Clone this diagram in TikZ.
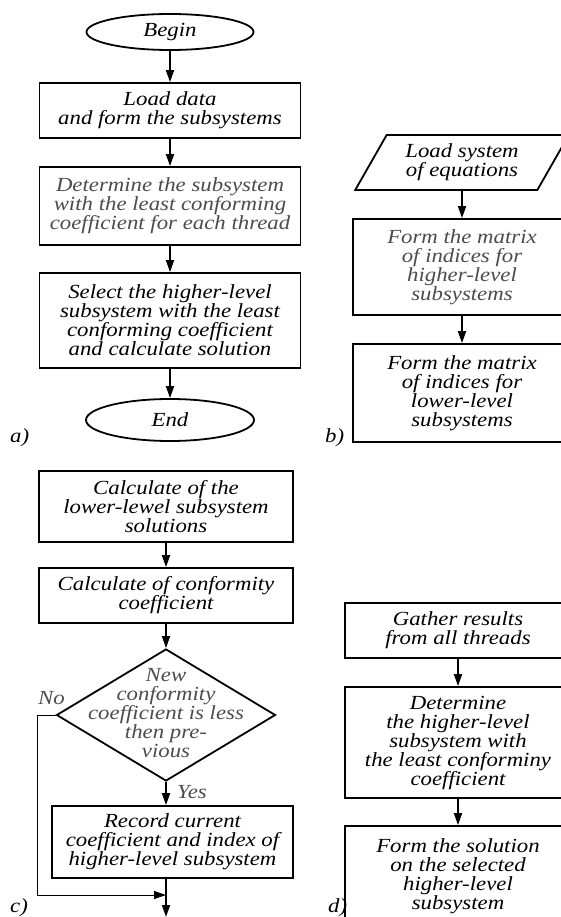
\documentclass[tikz,border=0pt]{standalone}
\usepackage{fontspec}
\setmainfont{Liberation Serif}[FakeStretch=1.14]
\usetikzlibrary{shapes.geometric,arrows.meta}

\definecolor{textgrey}{gray}{0.3}
\newcommand{\flowfont}{\itshape\fontsize{20}{19}\selectfont\lineskiplimit=-20pt\relax}

\begin{document}
\begin{tikzpicture}[x=1pt,y=-1pt,
every node/.style={font=\flowfont, align=center, inner sep=0pt},
stepbox/.style={rectangle, draw=black, line width=1.8pt},
terminal/.style={ellipse, draw=black, line width=1.8pt},
iobox/.style={trapezium, trapezium left angle=57.5, trapezium right angle=122.5, trapezium stretches=true, draw=black, line width=1.8pt},
decision/.style={diamond, draw=black, line width=1.8pt},
panellabel/.style={anchor=base west}]

\tikzset{flowarrow/.style={-{Triangle[length=12pt,width=8pt]}, line width=1.8pt}}

\path[use as bounding box] (0,0) rectangle (561,917);
\clip (0,0) rectangle (561,917);

% a)
\node[terminal, minimum width=167, minimum height=36] (begin) at (170,32) {Begin};
\node[stepbox, minimum width=261, minimum height=55] (loaddata) at (170,110.5) {Load data\\and form the subsystems};
\node[stepbox, minimum width=261, minimum height=78, text=textgrey] (leastsub) at (170,206) {Determine the subsystem\\with the least conforming\\coefficient for each thread};
\node[stepbox, minimum width=261, minimum height=95] (select) at (170,320.5) {Select the higher-level\\subsystem with the least\\conforming coefficient\\and calculate solution};
\node[terminal, minimum width=168, minimum height=42] (end) at (170,420) {End};
\node[panellabel] (laba) at (10,442) {a)};

\draw[flowarrow] (begin) -- (loaddata);
\draw[flowarrow] (loaddata) -- (leastsub);
\draw[flowarrow] (leastsub) -- (select);
\draw[flowarrow] (select) -- (end);

% b)
\node[iobox, minimum width=214, minimum height=55] (loadeq) at (462,162.5) {Load system\\of equations};
\node[stepbox, minimum width=218, minimum height=96, text=textgrey] (highidx) at (462,267) {Form the matrix\\of indices for\\higher-level\\subsystems};
\node[stepbox, minimum width=218, minimum height=98] (lowidx) at (462,393) {Form the matrix\\of indices for\\lower-level\\subsystems};
\node[panellabel] (labb) at (325,442) {b)};

\draw[flowarrow] (loadeq) -- (highidx);
\draw[flowarrow] (highidx) -- (lowidx);

% c)
\node[stepbox, minimum width=254, minimum height=71] (lowsol) at (166,506.5) {Calculate of the\\lower-lewel subsystem\\solutions};
\node[stepbox, minimum width=254, minimum height=55] (coef) at (166,595.5) {Calculate of conformity\\coefficient};
\node[decision, minimum width=219, minimum height=132] (isless) at (166,715) {};
\node[text=textgrey] (islesstext) at (166,713) {New\\conformity\\coefficient is less\\then pre-\\vious};
\node[stepbox, minimum width=241, minimum height=72] (record) at (172.5,842) {Record current\\coefficient and index of\\higher-level subsystem};
\node[text=textgrey, anchor=base east] (labno) at (65,704) {No};
\node[text=textgrey, anchor=base west] (labyes) at (177,798) {Yes};
\coordinate (join) at (166,895);
\coordinate (cout) at (166,917);
\node[panellabel] (labc) at (10,912) {c)};

\draw[flowarrow] (lowsol) -- (coef);
\draw[flowarrow] (coef) -- (isless);
\draw[flowarrow] (isless.south) -- (isless.south |- record.north);
\draw[-{Triangle[length=12pt,width=8pt]}, line width=1pt] (isless.west) -- ++(-18,0) |- (join);
\draw[flowarrow] (record.south -| join) -- (cout);

% d)
\node[stepbox, minimum width=226, minimum height=55] (gather) at (458,630.5) {Gather results\\from all threads};
\node[stepbox, minimum width=226, minimum height=111] (bestsub) at (458,742.5) {Determine\\the higher-level\\subsystem with\\the least conforminy\\coefficient};
\node[stepbox, minimum width=226, minimum height=100] (formsol) at (458,876) {Form the solution\\on the selected\\higher-level\\subsystem};
\node[panellabel] (labd) at (328,912) {d)};

\draw[flowarrow] (gather) -- (bestsub);
\draw[flowarrow] (bestsub) -- (formsol);

\end{tikzpicture}
\end{document}
